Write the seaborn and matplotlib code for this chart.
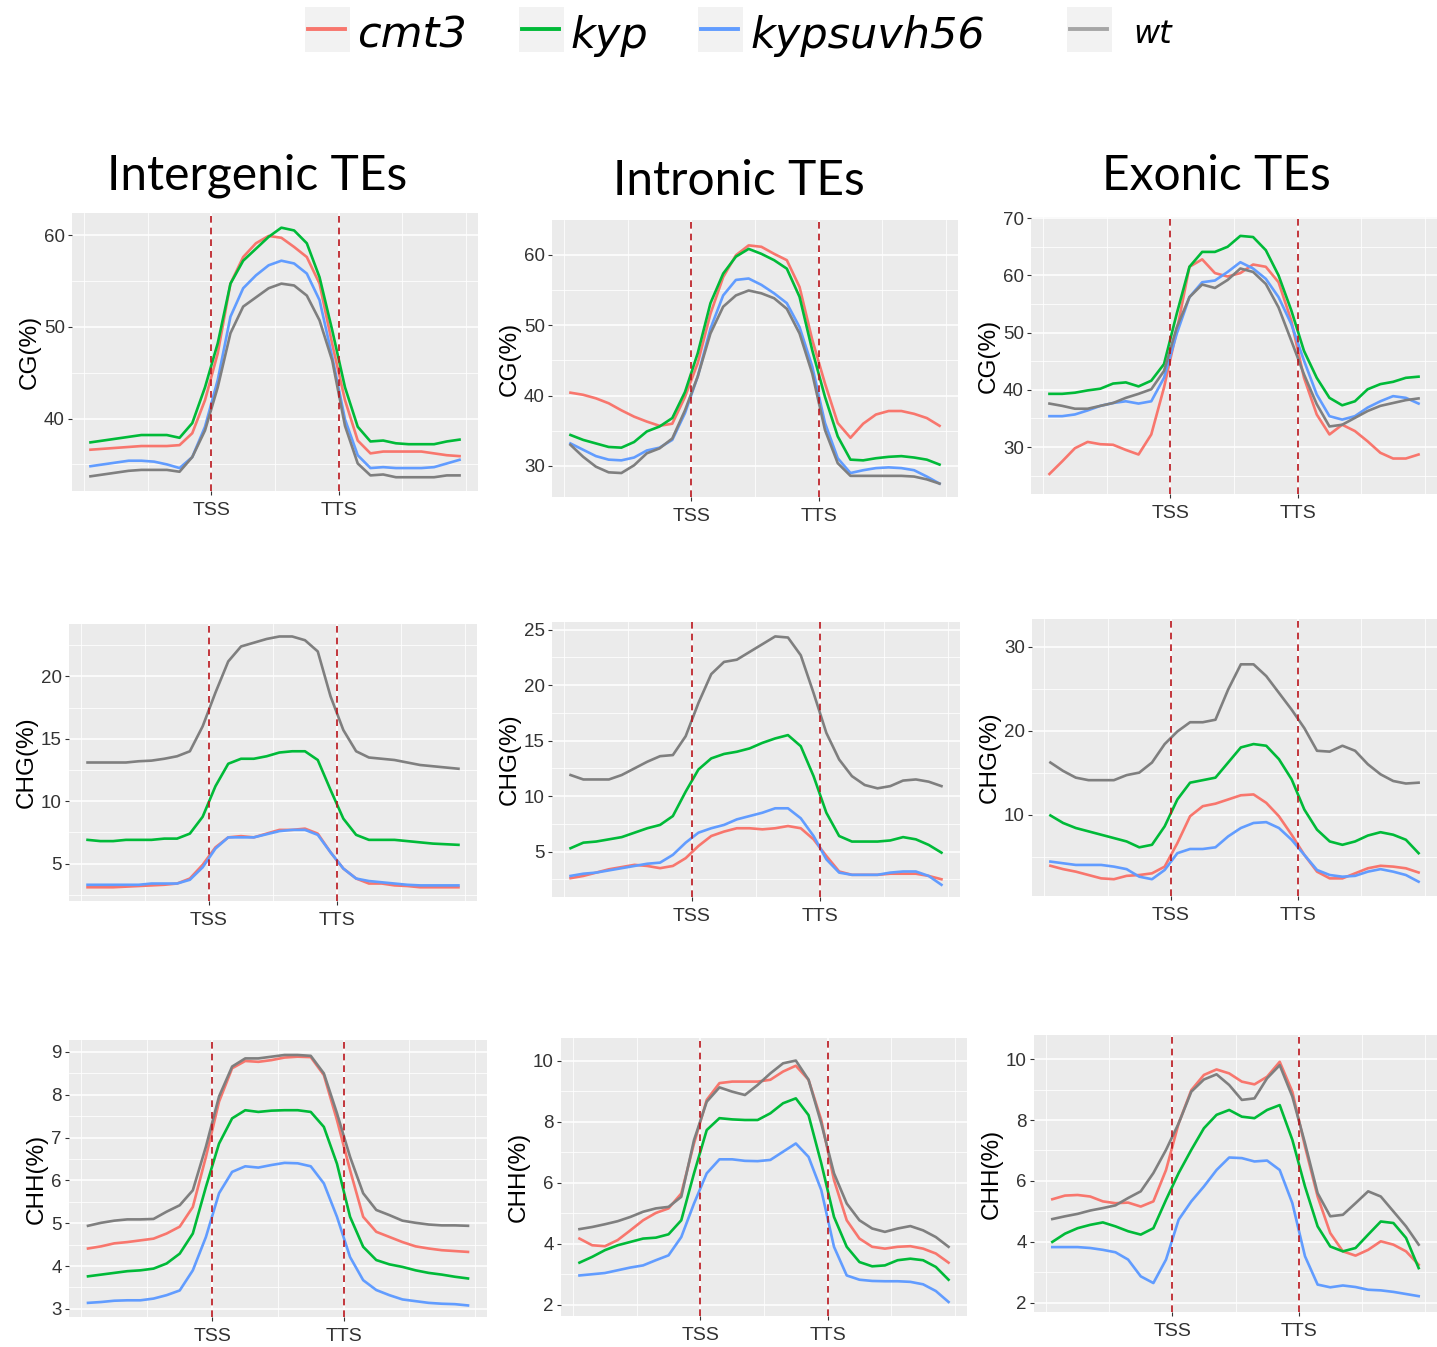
import pandas as pd
import matplotlib
matplotlib.use("Agg")
import matplotlib.pyplot as plt
import seaborn as sns
from matplotlib.ticker import MultipleLocator
from matplotlib.patches import Rectangle
from matplotlib.lines import Line2D

# ---------------------------------------------------------------------------
# Metagene profile: bins along upstream / TE body / downstream
# ---------------------------------------------------------------------------
bins = list(range(1, 60, 2))
boundary_pos = [20, 40]
boundary_labels = ["TSS", "TTS"]
genotypes = ["cmt3", "kyp", "kypsuvh56", "wt"]
regions = ["Intergenic TEs", "Intronic TEs", "Exonic TEs"]
contexts = ["CG", "CHG", "CHH"]

# ---- CG, intergenic TEs ----
cg_intergenic_cmt3 = [36.6, 36.7, 36.8, 36.9, 37.0, 37.0, 37.0, 37.1, 38.4, 42.0, 47.1, 54.7, 57.6, 59.1, 59.9,
                      59.7, 58.7, 57.6, 54.7, 48.1, 42.0, 37.6, 36.2, 36.4, 36.4, 36.4, 36.4, 36.2, 36.0, 35.9]
cg_intergenic_kyp = [37.4, 37.6, 37.8, 38.0, 38.2, 38.2, 38.2, 37.9, 39.5, 43.4, 48.2, 54.7, 57.2, 58.5, 59.8,
                     60.8, 60.5, 59.1, 55.4, 49.6, 43.4, 39.1, 37.5, 37.6, 37.3, 37.2, 37.2, 37.2, 37.5, 37.7]
cg_intergenic_kypsuvh56 = [34.8, 35.0, 35.2, 35.4, 35.4, 35.3, 35.0, 34.6, 35.8, 39.1, 44.2, 51.1, 54.2, 55.6, 56.7,
                           57.2, 56.9, 55.8, 52.9, 46.7, 39.9, 36.0, 34.6, 34.7, 34.6, 34.6, 34.6, 34.7, 35.1, 35.5]
cg_intergenic_wt = [33.7, 33.9, 34.1, 34.3, 34.4, 34.4, 34.4, 34.2, 35.8, 38.7, 43.4, 49.3, 52.2, 53.2, 54.2,
                    54.7, 54.5, 53.4, 50.7, 46.3, 39.2, 35.1, 33.8, 33.9, 33.6, 33.6, 33.6, 33.6, 33.8, 33.8]

# ---- CG, intronic TEs ----
cg_intronic_cmt3 = [40.4, 40.1, 39.6, 38.9, 37.9, 37.0, 36.3, 35.7, 36.0, 39.8, 44.6, 51.6, 56.8, 59.9, 61.3,
                    61.1, 60.1, 59.2, 55.4, 47.9, 41.7, 36.1, 34.0, 36.0, 37.3, 37.8, 37.8, 37.4, 36.8, 35.7]
cg_intronic_kyp = [34.4, 33.7, 33.2, 32.7, 32.6, 33.4, 34.9, 35.6, 36.8, 40.5, 46.0, 53.1, 57.3, 59.7, 60.8,
                   60.1, 59.2, 58.0, 54.0, 46.4, 39.8, 34.2, 30.9, 30.8, 31.1, 31.3, 31.4, 31.2, 30.9, 30.2]
cg_intronic_kypsuvh56 = [33.2, 32.3, 31.4, 30.9, 30.8, 31.2, 32.2, 32.6, 33.7, 37.5, 42.7, 49.5, 54.2, 56.4, 56.6,
                         55.7, 54.5, 53.1, 49.7, 44.1, 36.1, 31.1, 29.0, 29.4, 29.7, 29.8, 29.7, 29.4, 28.5, 27.5]
cg_intronic_wt = [33.0, 31.3, 29.9, 29.1, 29.0, 30.1, 31.8, 32.5, 33.9, 37.9, 42.7, 48.8, 52.6, 54.2, 54.9,
                  54.5, 53.8, 52.3, 48.8, 43.1, 35.1, 30.4, 28.6, 28.6, 28.6, 28.6, 28.6, 28.5, 28.1, 27.5]

# ---- CG, exonic TEs ----
cg_exonic_cmt3 = [25.3, 27.5, 29.8, 30.9, 30.5, 30.4, 29.5, 28.7, 32.2, 40.4, 50.3, 61.5, 62.8, 60.4, 59.8,
                  60.4, 61.9, 61.5, 58.8, 52.1, 42.1, 35.7, 32.2, 33.9, 32.8, 31.0, 29.0, 28.0, 28.0, 28.7]
cg_exonic_kyp = [39.3, 39.3, 39.5, 39.9, 40.2, 41.1, 41.3, 40.6, 41.6, 44.5, 53.3, 61.5, 64.1, 64.1, 65.0,
                 66.9, 66.7, 64.4, 60.0, 53.9, 46.8, 42.1, 38.6, 37.3, 38.0, 40.1, 41.0, 41.4, 42.1, 42.3]
cg_exonic_kypsuvh56 = [35.4, 35.4, 35.7, 36.4, 37.2, 37.7, 38.0, 37.6, 38.0, 42.1, 49.8, 56.2, 58.8, 59.1, 60.6,
                       62.3, 61.2, 59.4, 56.2, 51.5, 45.1, 39.2, 35.4, 34.8, 35.4, 36.9, 38.0, 38.9, 38.6, 37.6]
cg_exonic_wt = [37.6, 37.2, 36.7, 36.7, 37.2, 37.7, 38.6, 39.3, 40.1, 43.3, 50.9, 56.2, 58.4, 57.8, 59.2,
                61.2, 60.6, 58.5, 54.4, 48.6, 42.7, 37.5, 33.6, 33.9, 35.1, 36.3, 37.2, 37.7, 38.2, 38.5]

# ---- CHG, intergenic TEs ----
chg_intergenic_cmt3 = [3.1, 3.1, 3.1, 3.15, 3.2, 3.25, 3.3, 3.4, 3.8, 4.9, 6.3, 7.1, 7.2, 7.1, 7.4,
                       7.7, 7.7, 7.8, 7.4, 5.9, 4.6, 3.8, 3.4, 3.4, 3.25, 3.2, 3.1, 3.1, 3.1, 3.1]
chg_intergenic_kyp = [6.9, 6.8, 6.8, 6.9, 6.9, 6.9, 7.0, 7.0, 7.4, 8.75, 11.2, 13.0, 13.4, 13.4, 13.6,
                      13.9, 14.0, 14.0, 13.3, 10.9, 8.6, 7.3, 6.9, 6.9, 6.9, 6.8, 6.7, 6.6, 6.55, 6.5]
chg_intergenic_kypsuvh56 = [3.3, 3.3, 3.3, 3.3, 3.3, 3.4, 3.4, 3.4, 3.7, 4.7, 6.2, 7.1, 7.1, 7.1, 7.35,
                            7.6, 7.7, 7.7, 7.3, 5.9, 4.6, 3.8, 3.6, 3.5, 3.4, 3.3, 3.25, 3.25, 3.25, 3.25]
chg_intergenic_wt = [13.1, 13.1, 13.1, 13.1, 13.2, 13.25, 13.4, 13.6, 14.0, 16.0, 18.7, 21.2, 22.4, 22.7, 23.0,
                     23.2, 23.2, 22.9, 22.0, 18.4, 15.7, 14.0, 13.5, 13.4, 13.3, 13.1, 12.9, 12.8, 12.7, 12.6]

# ---- CHG, intronic TEs ----
chg_intronic_cmt3 = [2.6, 2.8, 3.1, 3.4, 3.6, 3.8, 3.7, 3.5, 3.7, 4.4, 5.5, 6.4, 6.8, 7.1, 7.1,
                     7.0, 7.1, 7.3, 7.1, 6.1, 4.6, 3.2, 2.9, 2.9, 2.9, 3.0, 3.0, 3.0, 2.8, 2.5]
chg_intronic_kyp = [5.3, 5.8, 5.9, 6.1, 6.3, 6.7, 7.1, 7.4, 8.2, 10.4, 12.4, 13.4, 13.8, 14.0, 14.3,
                    14.8, 15.2, 15.5, 14.5, 11.8, 8.5, 6.4, 5.9, 5.9, 5.9, 6.0, 6.3, 6.1, 5.6, 4.9]
chg_intronic_kypsuvh56 = [2.8, 3.0, 3.1, 3.3, 3.5, 3.7, 3.9, 4.0, 4.7, 5.8, 6.7, 7.1, 7.4, 7.9, 8.2,
                          8.5, 8.9, 8.9, 8.0, 6.4, 4.3, 3.1, 2.9, 2.9, 2.9, 3.1, 3.2, 3.2, 2.8, 2.0]
chg_intronic_wt = [11.9, 11.5, 11.5, 11.5, 11.9, 12.5, 13.1, 13.6, 13.7, 15.4, 18.4, 21.0, 22.1, 22.3, 23.0,
                   23.7, 24.4, 24.3, 22.7, 19.3, 15.7, 13.3, 11.8, 11.0, 10.7, 10.9, 11.4, 11.5, 11.3, 10.9]

# ---- CHG, exonic TEs ----
chg_exonic_cmt3 = [3.9, 3.5, 3.2, 2.8, 2.4, 2.3, 2.7, 2.8, 3.0, 3.8, 6.6, 9.8, 11.0, 11.3, 11.8,
                   12.3, 12.4, 11.4, 9.8, 7.6, 5.2, 3.2, 2.4, 2.4, 3.0, 3.6, 3.9, 3.8, 3.6, 3.1]
chg_exonic_kyp = [9.9, 9.0, 8.4, 8.0, 7.6, 7.2, 6.8, 6.1, 6.4, 8.6, 11.8, 13.8, 14.1, 14.4, 16.2,
                  18.0, 18.4, 18.2, 16.6, 14.2, 10.6, 8.2, 6.8, 6.4, 6.8, 7.5, 7.9, 7.6, 7.0, 5.4]
chg_exonic_kypsuvh56 = [4.4, 4.2, 4.0, 4.0, 4.0, 3.8, 3.5, 2.6, 2.3, 3.4, 5.4, 5.9, 5.9, 6.1, 7.4,
                        8.4, 9.0, 9.1, 8.4, 7.0, 5.2, 3.4, 2.8, 2.6, 2.7, 3.2, 3.5, 3.2, 2.8, 2.0]
chg_exonic_wt = [16.2, 15.2, 14.4, 14.1, 14.1, 14.1, 14.7, 15.0, 16.2, 18.4, 19.9, 21.0, 21.0, 21.3, 24.9,
                 27.9, 27.9, 26.5, 24.5, 22.5, 20.3, 17.6, 17.5, 18.2, 17.6, 16.0, 14.8, 14.0, 13.7, 13.8]

# ---- CHH, intergenic TEs ----
chh_intergenic_cmt3 = [4.41, 4.46, 4.53, 4.56, 4.60, 4.64, 4.76, 4.92, 5.38, 6.55, 7.84, 8.62, 8.79, 8.77, 8.81,
                       8.87, 8.89, 8.88, 8.46, 7.41, 6.24, 5.15, 4.80, 4.68, 4.56, 4.46, 4.41, 4.37, 4.35, 4.33]
chh_intergenic_kyp = [3.76, 3.80, 3.84, 3.88, 3.90, 3.94, 4.06, 4.29, 4.76, 5.85, 6.86, 7.45, 7.64, 7.60, 7.63,
                      7.64, 7.64, 7.60, 7.25, 6.39, 5.15, 4.45, 4.14, 4.04, 3.98, 3.90, 3.84, 3.80, 3.75, 3.71]
chh_intergenic_kypsuvh56 = [3.14, 3.16, 3.19, 3.20, 3.20, 3.24, 3.32, 3.43, 3.90, 4.68, 5.70, 6.20, 6.33, 6.30, 6.36,
                            6.41, 6.40, 6.33, 5.93, 5.15, 4.21, 3.67, 3.44, 3.32, 3.22, 3.18, 3.14, 3.12, 3.11, 3.08]
chh_intergenic_wt = [4.94, 5.01, 5.06, 5.09, 5.09, 5.10, 5.27, 5.42, 5.77, 6.79, 7.96, 8.66, 8.85, 8.85, 8.89,
                     8.93, 8.93, 8.91, 8.50, 7.57, 6.55, 5.70, 5.31, 5.19, 5.06, 5.01, 4.97, 4.95, 4.95, 4.94]

# ---- CHH, intronic TEs ----
chh_intronic_cmt3 = [4.17, 3.95, 3.92, 4.12, 4.44, 4.77, 5.01, 5.16, 5.65, 7.29, 8.72, 9.27, 9.32, 9.32, 9.32,
                     9.38, 9.65, 9.84, 9.38, 8.06, 6.09, 4.77, 4.17, 3.90, 3.84, 3.90, 3.92, 3.84, 3.68, 3.38]
chh_intronic_kyp = [3.38, 3.57, 3.79, 3.95, 4.06, 4.17, 4.20, 4.31, 4.77, 6.31, 7.73, 8.12, 8.08, 8.06, 8.06,
                    8.28, 8.61, 8.77, 8.22, 6.64, 4.88, 3.90, 3.40, 3.26, 3.29, 3.46, 3.51, 3.46, 3.24, 2.82]
chh_intronic_kypsuvh56 = [2.96, 3.00, 3.04, 3.13, 3.22, 3.29, 3.46, 3.62, 4.22, 5.32, 6.31, 6.77, 6.77, 6.72, 6.71,
                          6.75, 7.02, 7.29, 6.85, 5.76, 3.90, 2.96, 2.82, 2.78, 2.77, 2.77, 2.75, 2.67, 2.45, 2.09]
chh_intronic_wt = [4.48, 4.55, 4.64, 4.74, 4.88, 5.05, 5.16, 5.21, 5.54, 7.40, 8.66, 9.13, 8.99, 8.88, 9.21,
                   9.59, 9.92, 10.01, 9.38, 7.95, 6.31, 5.32, 4.77, 4.50, 4.39, 4.50, 4.58, 4.44, 4.22, 3.90]

# ---- CHH, exonic TEs ----
chh_exonic_cmt3 = [5.40, 5.52, 5.54, 5.49, 5.33, 5.27, 5.29, 5.16, 5.33, 6.36, 7.89, 8.98, 9.48, 9.66, 9.53,
                   9.26, 9.17, 9.42, 9.91, 8.93, 7.13, 5.49, 4.29, 3.69, 3.55, 3.74, 4.02, 3.91, 3.69, 3.25]
chh_exonic_kyp = [4.00, 4.27, 4.45, 4.56, 4.64, 4.51, 4.35, 4.24, 4.45, 5.38, 6.26, 7.02, 7.73, 8.17, 8.33,
                  8.11, 8.06, 8.33, 8.49, 7.35, 5.82, 4.51, 3.85, 3.69, 3.80, 4.24, 4.67, 4.62, 4.13, 3.14]
chh_exonic_kypsuvh56 = [3.83, 3.83, 3.83, 3.80, 3.74, 3.66, 3.42, 2.87, 2.65, 3.42, 4.73, 5.33, 5.82, 6.36, 6.77,
                        6.75, 6.64, 6.67, 6.36, 5.27, 3.53, 2.60, 2.51, 2.57, 2.52, 2.43, 2.41, 2.36, 2.29, 2.22]
chh_exonic_wt = [4.75, 4.84, 4.92, 5.03, 5.11, 5.20, 5.44, 5.66, 6.26, 7.02, 7.89, 8.93, 9.33, 9.50, 9.15,
                 8.66, 8.71, 9.37, 9.80, 8.77, 7.24, 5.60, 4.84, 4.89, 5.27, 5.66, 5.49, 5.00, 4.51, 3.91]

profiles = {
    ("CG", "Intergenic TEs"): [cg_intergenic_cmt3, cg_intergenic_kyp, cg_intergenic_kypsuvh56, cg_intergenic_wt],
    ("CG", "Intronic TEs"): [cg_intronic_cmt3, cg_intronic_kyp, cg_intronic_kypsuvh56, cg_intronic_wt],
    ("CG", "Exonic TEs"): [cg_exonic_cmt3, cg_exonic_kyp, cg_exonic_kypsuvh56, cg_exonic_wt],
    ("CHG", "Intergenic TEs"): [chg_intergenic_cmt3, chg_intergenic_kyp, chg_intergenic_kypsuvh56, chg_intergenic_wt],
    ("CHG", "Intronic TEs"): [chg_intronic_cmt3, chg_intronic_kyp, chg_intronic_kypsuvh56, chg_intronic_wt],
    ("CHG", "Exonic TEs"): [chg_exonic_cmt3, chg_exonic_kyp, chg_exonic_kypsuvh56, chg_exonic_wt],
    ("CHH", "Intergenic TEs"): [chh_intergenic_cmt3, chh_intergenic_kyp, chh_intergenic_kypsuvh56, chh_intergenic_wt],
    ("CHH", "Intronic TEs"): [chh_intronic_cmt3, chh_intronic_kyp, chh_intronic_kypsuvh56, chh_intronic_wt],
    ("CHH", "Exonic TEs"): [chh_exonic_cmt3, chh_exonic_kyp, chh_exonic_kypsuvh56, chh_exonic_wt],
}

rows = []
for (ctx, reg), series in profiles.items():
    for g, vals in zip(genotypes, series):
        for b, v in zip(bins, vals):
            rows.append({"context": ctx, "region": reg, "genotype": g, "bin": b, "value": v})
df = pd.DataFrame(rows)

palette = {"cmt3": "#F8766D", "kyp": "#00BA38", "kypsuvh56": "#619CFF", "wt": "#7F7F7F"}

# ---------------------------------------------------------------------------
# Layout (pixel boxes on a 1437 x 1347 canvas)
# ---------------------------------------------------------------------------
W, H = 1437, 1347
panel_boxes = {
    ("CG", "Intergenic TEs"): (72, 213, 406, 278),
    ("CG", "Intronic TEs"): (552, 220, 406, 277),
    ("CG", "Exonic TEs"): (1031, 217, 406, 277),
    ("CHG", "Intergenic TEs"): (69, 624, 408, 277),
    ("CHG", "Intronic TEs"): (552, 622, 408, 275),
    ("CHG", "Exonic TEs"): (1032, 619, 405, 277),
    ("CHH", "Intergenic TEs"): (69, 1040, 418, 277),
    ("CHH", "Intronic TEs"): (561, 1038, 406, 278),
    ("CHH", "Exonic TEs"): (1034, 1035, 403, 277),
}
y_limits = {
    ("CG", "Intergenic TEs"): (32.1, 62.4),
    ("CG", "Intronic TEs"): (25.6, 64.9),
    ("CG", "Exonic TEs"): (21.8, 70.2),
    ("CHG", "Intergenic TEs"): (2.0, 24.2),
    ("CHG", "Intronic TEs"): (0.9, 25.7),
    ("CHG", "Exonic TEs"): (0.3, 33.3),
    ("CHH", "Intergenic TEs"): (2.81, 9.28),
    ("CHH", "Intronic TEs"): (1.63, 10.75),
    ("CHH", "Exonic TEs"): (1.70, 10.79),
}
y_steps = {
    ("CG", "Intergenic TEs"): 10, ("CG", "Intronic TEs"): 10, ("CG", "Exonic TEs"): 10,
    ("CHG", "Intergenic TEs"): 5, ("CHG", "Intronic TEs"): 5, ("CHG", "Exonic TEs"): 10,
    ("CHH", "Intergenic TEs"): 1, ("CHH", "Intronic TEs"): 2, ("CHH", "Exonic TEs"): 2,
}
ylabel_offset = {
    ("CHH", "Intergenic TEs"): 32,
}

plt.rcParams["font.family"] = ["Liberation Sans", "DejaVu Sans"]
fig = plt.figure(figsize=(W / 100, H / 100), dpi=100)
fig.patch.set_facecolor("white")

x_lo, x_hi = min(bins), max(bins)
x_pad = 0.05 * (x_hi - x_lo)

for ctx in contexts:
    for reg in regions:
        key = (ctx, reg)
        px, py, pw, ph = panel_boxes[key]
        ax = fig.add_axes([px / W, 1 - (py + ph) / H, pw / W, ph / H])
        ax.set_facecolor("#EBEBEB")
        sub = df[(df["context"] == ctx) & (df["region"] == reg)]
        sns.lineplot(data=sub, x="bin", y="value", hue="genotype", hue_order=genotypes,
                     palette=palette, linewidth=1.9, estimator=None, sort=False,
                     legend=False, ax=ax, zorder=2)
        for p in boundary_pos:
            ax.axvline(p, color="#B8141B", lw=1.2, ls=(0, (4, 3)), zorder=3)

        ax.set_xlim(x_lo - x_pad, x_hi + x_pad)
        ax.set_ylim(*y_limits[key])
        ax.set_xticks(boundary_pos)
        ax.set_xticklabels(boundary_labels)
        ax.set_xticks([0, 10, 30, 50, 60], minor=True)
        step = y_steps[key]
        ax.yaxis.set_major_locator(MultipleLocator(step))
        ax.yaxis.set_minor_locator(MultipleLocator(step / 2))

        ax.set_axisbelow(True)
        ax.grid(which="major", color="white", lw=1.1)
        ax.grid(which="minor", color="white", lw=0.55)
        for s in ax.spines.values():
            s.set_visible(False)
        ax.tick_params(which="major", length=3.2, width=0.8, color="#333333",
                       labelsize=13.5, labelcolor="#333333", pad=2)
        ax.tick_params(axis="x", which="major", pad=5, labelsize=14)
        ax.tick_params(which="minor", length=0)
        ax.set_xlabel("")
        ax.set_ylabel(f"{ctx}(%)", fontsize=17.5, color="black", va="center")
        off = ylabel_offset.get(key, 42)
        ax.yaxis.set_label_coords(-off / pw, 0.5)

# column headers
title_pos = [(257, 190), (739, 195), (1216, 190)]
for reg, (tx, ty) in zip(regions, title_pos):
    fig.text(tx / W, 1 - ty / H, reg, fontsize=34.5, family="Lato",
             ha="center", va="baseline", color="black")

# legend strip along the top
key_x = [305, 519, 698, 1067]
text_x = [357, 570, 750, 1133]
text_base = [48, 48, 48, 43]
text_size = [31, 31, 31, 23]
legend_line = {"cmt3": "#F8766D", "kyp": "#00BA38", "kypsuvh56": "#619CFF", "wt": "#A6A6A6"}
for g, kx, tx, tb, ts in zip(genotypes, key_x, text_x, text_base, text_size):
    fig.add_artist(Rectangle((kx / W, 1 - 52 / H), 45 / W, 45 / H,
                             transform=fig.transFigure, facecolor="#F2F2F2",
                             edgecolor="none"))
    fig.add_artist(Line2D([(kx + 3) / W, (kx + 40) / W], [1 - 29 / H, 1 - 29 / H],
                          transform=fig.transFigure, color=legend_line[g], lw=2.8))
    fig.text(tx / W, 1 - tb / H, g, fontsize=ts, style="italic",
             family="DejaVu Sans", ha="left", va="baseline", color="black")

fig.savefig("out.png", dpi=100, facecolor="white")
